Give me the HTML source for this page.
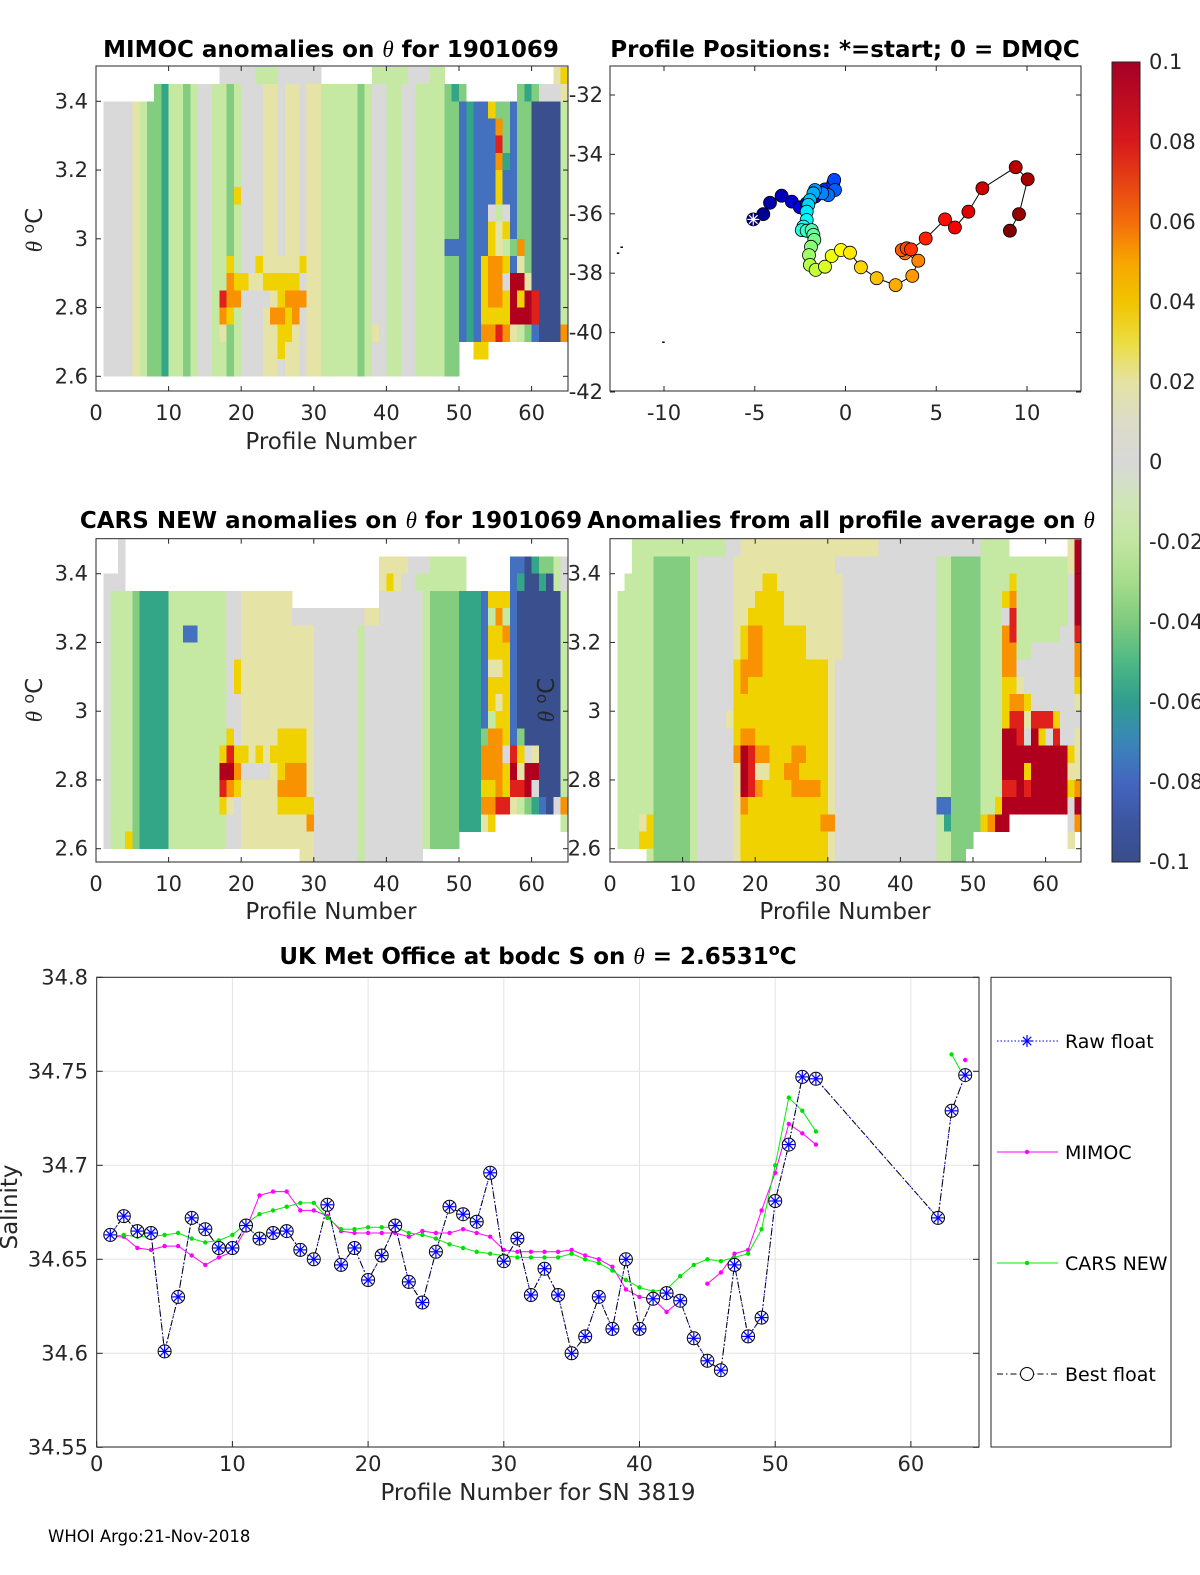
<!DOCTYPE html>
<html><head><meta charset="utf-8"><style>
html,body{margin:0;padding:0;background:#fff;overflow:hidden;}
svg{display:block;font-family:"DejaVu Sans","Liberation Sans",sans-serif;}
.tk{font-size:21px;fill:#262626;}
.lg{font-size:19px;fill:#000;}
.ttl{font-size:23px;font-weight:bold;fill:#000;}
.lbl{font-size:23px;fill:#262626;}
</style></head><body>
<svg id="fig" width="1200" height="1575" viewBox="0 0 1200 1575">
<rect x="0" y="0" width="1200" height="1575" fill="#fff"/>
<defs>
<clipPath id="c1"><rect x="96" y="66" width="472" height="325"/></clipPath>
<clipPath id="c2"><rect x="96" y="538.7" width="472" height="323.3"/></clipPath>
<clipPath id="c3"><rect x="610" y="538.7" width="471" height="323.3"/></clipPath>
<linearGradient id="cbg" x1="0" y1="0" x2="0" y2="1">
<stop offset="0" stop-color="#a50026"/><stop offset="0.1" stop-color="#d7191c"/><stop offset="0.2" stop-color="#f46d0a"/>
<stop offset="0.25" stop-color="#f7a600"/><stop offset="0.3" stop-color="#f1c400"/><stop offset="0.35" stop-color="#ecdc40"/>
<stop offset="0.4" stop-color="#e4e3a4"/><stop offset="0.45" stop-color="#dcdcc8"/><stop offset="0.5" stop-color="#d8d8d8"/>
<stop offset="0.55" stop-color="#cfe5b8"/><stop offset="0.6" stop-color="#c2e6a0"/><stop offset="0.65" stop-color="#a6dc8c"/>
<stop offset="0.7" stop-color="#7ecb7e"/><stop offset="0.75" stop-color="#4db985"/><stop offset="0.8" stop-color="#2f9e8e"/>
<stop offset="0.85" stop-color="#3a86b8"/><stop offset="0.9" stop-color="#4466c0"/><stop offset="0.95" stop-color="#3d55a0"/>
<stop offset="1" stop-color="#3a4d8a"/></linearGradient>
</defs>
<g id="hm1" clip-path="url(#c1)" shape-rendering="crispEdges"></g>
<g id="hm2" clip-path="url(#c2)" shape-rendering="crispEdges"></g>
<g id="hm3" clip-path="url(#c3)" shape-rendering="crispEdges"></g>
<g id="axes"></g>

<text class="ttl" x="331" y="57" text-anchor="middle">MIMOC anomalies on <tspan font-family="Liberation Serif,serif" font-style="italic" font-weight="normal">θ</tspan>  for 1901069</text>
<text class="ttl" x="845" y="57" text-anchor="middle">Profile Positions: *=start; 0 = DMQC</text>
<text class="ttl" x="331" y="528" text-anchor="middle">CARS NEW anomalies on <tspan font-family="Liberation Serif,serif" font-style="italic" font-weight="normal">θ</tspan> for 1901069</text>
<text class="ttl" x="841" y="528" text-anchor="middle">Anomalies from all profile average on <tspan font-family="Liberation Serif,serif" font-style="italic" font-weight="normal">θ</tspan></text>
<text class="ttl" x="538" y="964" text-anchor="middle">UK Met Office at bodc S on <tspan font-family="Liberation Serif,serif" font-style="italic" font-weight="normal">θ</tspan> = 2.6531<tspan dy="-9" font-size="16">o</tspan><tspan dy="9">C</tspan></text>

<text class="lbl" x="331" y="449" text-anchor="middle">Profile Number</text>
<text class="lbl" x="331" y="919" text-anchor="middle">Profile Number</text>
<text class="lbl" x="845" y="919" text-anchor="middle">Profile Number</text>
<text class="lbl" transform="translate(42,230) rotate(-90)" text-anchor="middle"><tspan font-family="Liberation Serif,serif" font-style="italic">θ</tspan> <tspan dy="-8" font-size="16">o</tspan><tspan dy="8">C</tspan></text>
<text class="lbl" transform="translate(42,700) rotate(-90)" text-anchor="middle"><tspan font-family="Liberation Serif,serif" font-style="italic">θ</tspan> <tspan dy="-8" font-size="16">o</tspan><tspan dy="8">C</tspan></text>
<text class="lbl" transform="translate(554,700) rotate(-90)" text-anchor="middle"><tspan font-family="Liberation Serif,serif" font-style="italic">θ</tspan> <tspan dy="-8" font-size="16">o</tspan><tspan dy="8">C</tspan></text>
<text class="lbl" x="538" y="1500" text-anchor="middle">Profile Number for SN 3819</text>
<text class="lbl" transform="translate(17,1207) rotate(-90)" text-anchor="middle">Salinity</text>
<text x="48" y="1542" font-size="16.5" fill="#000">WHOI Argo:21-Nov-2018</text>

<rect x="1112" y="62" width="28" height="800" fill="url(#cbg)" stroke="#262626" stroke-width="1"/>
</svg>
<script>
// ---------- data ----------
const cbTicks = [0.1,0.08,0.06,0.04,0.02,0,-0.02,-0.04,-0.06,-0.08,-0.1];
const thetaTicks = [3.4,3.2,3.0,2.8,2.6];
const thetaTickLabels = ['3.4','3.2','3','2.8','2.6'];
const profTicks = [0,10,20,30,40,50,60];
const lonTicks = [-10,-5,0,5,10];
const latTicks = [-32,-34,-36,-38,-40,-42];
const salTicks = [34.8,34.75,34.7,34.65,34.6,34.55];
const salTickLabels = ['34.8','34.75','34.7','34.65','34.6','34.55'];

// heatmap color classes
const palette = {'0':'#3a4f8e','1':'#4470c0','2':'#33a687','3':'#82cd80','4':'#c5e8a2','5':'#d9d9d9','6':'#e6e3a6','7':'#f0d200','8':'#f89200','9':'#e0201a','R':'#b0001e'};

// MIMOC heatmap: base (mid rows) and row overrides ('.'=base, ' '=no data)
const base1 = "5555"+"6"+"4"+"332"+"44"+"34"+"554"+"434"+"555"+"66566566"+"4444"+"434"+"554455"+"4444"+"33"+"12"+"11"+"747"+"1"+"33"+"0000"+"4";
const rows1 = [
 " ".repeat(16)+"55555444555555"+" ".repeat(7)+"4444455544"+" ".repeat(15)+"67",
 " ".repeat(7)+".".repeat(40)+"323"+" ".repeat(7)+"3235556",
 ".".repeat(54)+"33",
 ".".repeat(53)+"183",
 ".".repeat(53)+"193",
 ".".repeat(53)+"182",
 ".".repeat(53)+"171",
 ".".repeat(18)+"7"+".".repeat(34)+"171",
 ".".repeat(53)+"545",
 ".".repeat(54)+"67",
 ".".repeat(47)+"11"+".".repeat(5)+"64"+"3"+"8",
 ".".repeat(17)+"7"+"..."+"7666667"+".".repeat(24)+"7887"+"1"+"6",
 ".".repeat(17)+"8776677777"+".".repeat(25)+"788"+"5"+"RR"+"6",
 ".".repeat(16)+"988"+"55556"+"7888"+".".repeat(24)+"7887"+"R7R9",
 ".".repeat(16)+"87"+".".repeat(5)+"8878"+".".repeat(25)+"7777"+"RRR9",
 ".".repeat(16)+"6"+".".repeat(6)+"6776"+".".repeat(10)+"6"+".".repeat(14)+"8898"+"64"+"31"+"0008",
 ".".repeat(24)+"7"+".".repeat(24)+"  77"+" ".repeat(11),
 ".".repeat(49)+" ".repeat(15)
];

// CARS heatmap
const base2 = "54443222244444444556666666666"+"555555455555555"+"433332"+"221"+"777"+"1"+"000000"+"4";
const rows2 = [
 "  5"+" ".repeat(61),
 "  5"+" ".repeat(35)+"666655544444"+" ".repeat(6)+"11023345",
 "555"+" ".repeat(35)+"676554444444"+" ".repeat(6)+"12002045",
 ".".repeat(26)+" ".repeat(12)+".".repeat(26),
 ".".repeat(26)+"555555555566"+".".repeat(15)+"484",
 ".".repeat(11)+"11"+".".repeat(40)+"778",
 ".".repeat(53)+"77",
 ".".repeat(18)+"7"+".".repeat(34)+"66",
 ".".repeat(18)+"7"+".".repeat(37)+"1",
 ".".repeat(54)+"67",
 ".".repeat(53)+"47",
 ".".repeat(17)+"7"+".".repeat(6)+"7777"+".".repeat(24)+"3887"+"1"+"3",
 ".".repeat(16)+"797767677777"+".".repeat(24)+"8885"+"9756",
 ".".repeat(16)+"RR8"+"55556"+"7888"+".".repeat(24)+"8887"+"R6RR",
 ".".repeat(16)+"987"+".".repeat(5)+"8888"+".".repeat(24)+"7787"+"99R5",
 ".".repeat(16)+"76"+".".repeat(6)+"77777"+".".repeat(23)+"8899"+"64321058",
 ".".repeat(28)+"8"+".".repeat(23)+"67"+" ".repeat(9)+"4",
 "..."+"7"+".".repeat(45)+" ".repeat(15),
 " ".repeat(27)+".".repeat(17)+" ".repeat(20)
];

// All-profile-average heatmap
const base3 = "4444"+"43333"+"3455555"+"67777777777776"+"55555555555555"+"443333"+"444"+"8888555"+"555"+"R";
const rows3 = [
 "  "+"4444444444444"+"55"+"6666666666666666666"+"55555555555555"+"4444"+" ".repeat(8)+"6R",
 "  "+".".repeat(15)+"6666666666666"+".".repeat(23)+"444444444"+"6R",
 " "+".".repeat(16)+"66677666666666"+".".repeat(22)+"4744444445R",
 ".".repeat(17)+"66777766666666"+".".repeat(22)+"78"+"44444"+"44"+"5"+"R",
 ".".repeat(17)+"67777766666666"+".".repeat(22)+"59"+"4444444"+"5R",
 ".".repeat(17)+"78877777766666"+".".repeat(22)+"89"+"4444445"+"5"+"9",
 ".".repeat(17)+"78877777766666"+".".repeat(22)+"88"+"4455555"+"5"+"8",
 ".".repeat(16)+"7888777777"+".".repeat(27)+"88"+"5555555"+"5"+"8",
 ".".repeat(16)+"78777777777"+".".repeat(26)+"77"+"6"+"5555555"+"7",
 ".".repeat(16)+"7777777777"+".".repeat(27)+"7887"+"555555"+"6",
 ".".repeat(15)+"6777777777777"+".".repeat(25)+"7996"+"9997"+"55"+"5",
 ".".repeat(16)+"7887777777"+".".repeat(27)+"RR95"+"R7595"+"5"+"6",
 ".".repeat(16)+"8R98877788"+".".repeat(27)+"RRRRRRRRR"+"76",
 ".".repeat(17)+"R9667788"+".".repeat(28)+"RRR7RRRRR"+"66",
 ".".repeat(17)+"R98"+"...."+"8888"+".".repeat(25)+"99R9RRRRR"+"78",
 ".".repeat(17)+"87"+"....."+"77777"+".".repeat(15)+"11"+"......"+"7"+"RRRRRRRRR"+"5R",
 "..."+"67"+".".repeat(12)+"7"+".".repeat(10)+"88"+".".repeat(15)+"2"+"...."+"78RR"+" ".repeat(8)+"58",
 "..."+"77"+".".repeat(44)+" ".repeat(13)+"6 ",
 "    "+".".repeat(44)+" ".repeat(16)
];

// profile positions (lon, lat)
const lons = [-5.08,-4.53,-4.16,-3.52,-2.96,-2.51,-2.14,-1.68,-1.13,-0.67,-0.62,-0.58,-0.95,-1.28,-1.68,-1.77,-1.96,-2.05,-2.14,-2.14,-2.32,-2.41,-2.14,-1.86,-1.77,-1.72,-1.90,-2.01,-1.96,-1.64,-1.13,-0.76,-0.25,0.25,0.85,1.72,2.76,3.68,4.01,3.28,3.10,3.37,3.61,4.42,5.48,6.03,6.77,7.54,9.38,10.04,9.56,9.06];
const lats = [-36.19,-36.01,-35.63,-35.39,-35.59,-35.78,-35.65,-35.42,-35.18,-34.97,-34.86,-35.20,-35.37,-35.31,-35.20,-35.31,-35.54,-35.70,-35.93,-36.21,-36.43,-36.55,-36.57,-36.55,-36.71,-36.88,-37.11,-37.39,-37.72,-37.89,-37.78,-37.42,-37.22,-37.31,-37.80,-38.17,-38.40,-38.09,-37.58,-37.33,-37.22,-37.16,-37.20,-36.83,-36.19,-36.46,-35.93,-35.14,-34.43,-34.84,-36.01,-36.57];
const landLons = [-12.4,-12.6,-10.1];
const landLats = [-37.1,-37.3,-40.3];

// salinity series, index = profile number - 1
const N8 = [null,null,null,null,null,null,null,null];
const bestFloat = [34.663,34.673,34.665,34.664,34.601,34.630,34.672,34.666,34.656,34.656,34.668,34.661,34.664,34.665,34.655,34.650,34.679,34.647,34.656,34.639,34.652,34.668,34.638,34.627,34.654,34.678,34.674,34.670,34.696,34.649,34.661,34.631,34.645,34.631,34.600,34.609,34.630,34.613,34.650,34.613,34.629,34.632,34.628,34.608,34.596,34.591,34.647,34.609,34.619,34.681,34.711,34.747,34.746].concat(N8,[34.672,34.729,34.748]);
const rawFloat = bestFloat.slice();
const mimoc = [34.662,34.662,34.656,34.655,34.657,34.657,34.652,34.647,34.651,34.654,34.666,34.684,34.686,34.686,34.676,34.676,34.673,34.665,34.664,34.664,34.664,34.664,34.662,34.665,34.664,34.664,34.666,34.664,34.662,34.655,34.654,34.654,34.654,34.654,34.655,34.652,34.650,34.646,34.634,34.630,34.629,34.622,34.628,null,34.637,34.643,34.653,34.655,34.676,34.696,34.722,34.717,34.711].concat(N8,[null,null,34.756]);
const cars = [34.662,34.663,34.662,34.662,34.663,34.664,34.661,34.659,34.660,34.663,34.669,34.674,34.676,34.678,34.680,34.680,34.672,34.666,34.666,34.667,34.667,34.667,34.664,34.663,34.661,34.658,34.656,34.654,34.653,34.652,34.651,34.651,34.651,34.651,34.653,34.650,34.648,34.644,34.639,34.635,34.633,34.634,34.641,34.647,34.650,34.649,34.651,34.653,34.666,34.700,34.736,34.729,34.718].concat(N8,[null,34.759,34.746]);

// ---------- drawing ----------
const NS='http://www.w3.org/2000/svg';
const svg=document.getElementById('fig');
const axesG=document.getElementById('axes');
function mk(tag,attrs,parent){const e=document.createElementNS(NS,tag);for(const k in attrs)e.setAttribute(k,attrs[k]);(parent||axesG).appendChild(e);return e;}

// scales
const X1=p=>96+7.26*p, Y1=t=>101.3+(3.4-t)*343.75;
const X2=p=>96+7.26*p, Y2=t=>573.7+(3.4-t)*343.75;
const X3=p=>610+7.26*p;
const LX=l=>845.5+18.15*l, LY=a=>95+(-32-a)*29.7;
const BX=p=>96.7+13.57*p, BY=s=>977.3+(34.8-s)*1880;
const CY=v=>462-v*4000;

function drawHeat(gid,base,rows,X,Y,name){
  const g=document.getElementById(gid);
  rows.forEach((row,r)=>{
    for(let c=0;c<64;c++){
      let ch=row[c]; if(ch===undefined) ch='.';
      if(ch==='.') ch=base[c];
      if(ch===' '||ch===undefined||!palette[ch]) continue;
      const t0=3.50-0.05*r, t1=t0-0.05;
      const x0=X(c+1), x1=X(c+2);
      const y0=Y(t0), y1=Y(t1);
      const e=mk('rect',{x:x0.toFixed(2),y:y0.toFixed(2),width:(x1-x0+0.3).toFixed(2),height:(y1-y0+0.3).toFixed(2),fill:palette[ch]},g);
      
      
    }
  });
}
drawHeat('hm1',base1,rows1,X1,Y1,'mimoc');
drawHeat('hm2',base2,rows2,X2,Y2,'cars');
drawHeat('hm3',base3,rows3,X3,Y2,'average');

function box(x,y,w,h,name){
  const e=mk('rect',{x:x,y:y,width:w,height:h,fill:'none',stroke:'#262626','stroke-width':1});
  
  
}
function tickLabel(x,y,s,anchor,name,cls){
  const e=mk('text',{x:x,y:y,'text-anchor':anchor,class:cls||'tk'});
  e.textContent=s;
  
  
}
function tline(x1,y1,x2,y2,name,col){
  const e=mk('line',{x1:x1,y1:y1,x2:x2,y2:y2,stroke:col||'#262626','stroke-width':1});
  
  
}

// heatmap axes
function heatAxes(left,top,right,bottom,X,Y,prefix,labelsLeft){
  box(left,top,right-left,bottom-top,prefix+'-axes-box');
  profTicks.forEach(p=>{
    const x=X(p);
    tline(x,bottom,x,bottom-5,prefix+'-x-tick');
    tline(x,top,x,top+5,prefix+'-x-tick');
    tickLabel(x,bottom+29,String(p),'middle',prefix+'-x-tick-label');
  });
  thetaTicks.forEach((t,i)=>{
    const y=Y(t);
    tline(left,y,left+5,y,prefix+'-y-tick');
    tline(right,y,right-5,y,prefix+'-y-tick');
    tickLabel(labelsLeft,y+7,thetaTickLabels[i],'end',prefix+'-y-tick-label');
  });
}
heatAxes(96,66,568,391,X1,Y1,'mimoc',88);
heatAxes(96,538.7,568,862,X2,Y2,'cars',88);
heatAxes(610,538.7,1081,862,X3,Y2,'average',601);

// positions axes
box(610,66,471,325,'positions-axes-box');
lonTicks.forEach(l=>{
  const x=LX(l);
  tline(x,391,x,386,'lon-tick');
  tline(x,66,x,71,'lon-tick');
  tickLabel(x,420,String(l),'middle','lon-tick-label');
});
latTicks.forEach(a=>{
  const y=LY(a);
  tline(610,y,615,y,'lat-tick');
  tline(1081,y,1076,y,'lat-tick');
  tickLabel(603,y+7,String(a),'end','lat-tick-label');
});
// track
let pts=lons.map((l,i)=>LX(l).toFixed(1)+','+LY(lats[i]).toFixed(1)).join(' ');
const track=mk('polyline',{points:pts,fill:'none',stroke:'#000','stroke-width':1});


function jet(t){const r=Math.min(Math.max(Math.min(4*t-1.5,-4*t+4.5),0),1);const g=Math.min(Math.max(Math.min(4*t-0.5,-4*t+3.5),0),1);const b=Math.min(Math.max(Math.min(4*t+0.5,-4*t+2.5),0),1);return 'rgb('+Math.round(r*255)+','+Math.round(g*255)+','+Math.round(b*255)+')';}
lons.forEach((l,i)=>{
  const c=mk('circle',{cx:LX(l).toFixed(1),cy:LY(lats[i]).toFixed(1),r:6.5,fill:jet(i/(lons.length-1)),stroke:'#000','stroke-width':0.8});
  
  
});
// start star
{const cx=LX(lons[0]),cy=LY(lats[0]);
 for(let k=0;k<4;k++){const a=k*Math.PI/4;
  const s=mk('line',{x1:cx-6*Math.cos(a),y1:cy-6*Math.sin(a),x2:cx+6*Math.cos(a),y2:cy+6*Math.sin(a),stroke:'#fff','stroke-width':1.2});
  
  }}
landLons.forEach((l,i)=>{
  const d=mk('rect',{x:LX(l),y:LY(landLats[i]),width:2.5,height:1.5,fill:'#000'});
  
  
});

// colorbar ticks
cbTicks.forEach(v=>{
  const y=CY(v);
  tline(1112,y,1117,y,'colorbar-tick');
  tline(1140,y,1135,y,'colorbar-tick');
  tickLabel(1149,y+7,String(v),'start','colorbar-tick-label');
});

// salinity axes
profTicks.forEach(p=>{
  const x=BX(p);
  tline(x,977.3,x,1447,'salinity-x-grid','#e3e3e3');
});
salTicks.forEach(s=>{
  const y=BY(s);
  tline(96.7,y,979,y,'salinity-y-grid','#e3e3e3');
});
box(96.7,977.3,882.3,469.7,'salinity-axes-box');
profTicks.forEach(p=>{
  const x=BX(p);
  tline(x,1447,x,1441,'salinity-x-tick');
  tickLabel(x,1471,String(p),'middle','salinity-x-tick-label');
});
salTicks.forEach((s,i)=>{
  const y=BY(s);
  tline(96.7,y,102.7,y,'salinity-y-tick');
  tline(979,y,973,y,'salinity-y-tick');
  tickLabel(88,y+7,salTickLabels[i],'end','salinity-y-tick-label');
});

function seriesPath(arr,connectGaps){
  let d='',pen=false;
  arr.forEach((v,i)=>{
    if(v===null){ if(!connectGaps) pen=false; return; }
    d+=(pen?'L':'M')+BX(i+1).toFixed(1)+' '+BY(v).toFixed(1)+' ';
    pen=true;
  });
  return d;
}
function dots(arr,col,name){
  arr.forEach((v,i)=>{
    if(v===null) return;
    const c=mk('circle',{cx:BX(i+1).toFixed(1),cy:BY(v).toFixed(1),r:2.2,fill:col});
    
    
  });
}
const pm=mk('path',{d:seriesPath(mimoc,false),fill:'none',stroke:'#ff00ff','stroke-width':1});


dots(mimoc,'#ff00ff','mimoc-point');
const pc=mk('path',{d:seriesPath(cars,false),fill:'none',stroke:'#00ee00','stroke-width':1});


dots(cars,'#00e000','cars-point');
const pr=mk('path',{d:seriesPath(rawFloat,true),fill:'none',stroke:'#0000ff','stroke-width':1,'stroke-dasharray':'1.5,2'});


const pb=mk('path',{d:seriesPath(bestFloat,true),fill:'none',stroke:'#000','stroke-width':1,'stroke-dasharray':'6,3,1.5,3'});


function asterisk(cx,cy,r,col,name){
  for(let k=0;k<4;k++){const a=k*Math.PI/4;
    const s=mk('line',{x1:(cx-r*Math.cos(a)).toFixed(1),y1:(cy-r*Math.sin(a)).toFixed(1),x2:(cx+r*Math.cos(a)).toFixed(1),y2:(cy+r*Math.sin(a)).toFixed(1),stroke:col,'stroke-width':1.2});
    
    }
}
bestFloat.forEach((v,i)=>{
  if(v===null) return;
  const cx=BX(i+1),cy=BY(v);
  const c=mk('circle',{cx:cx.toFixed(1),cy:cy.toFixed(1),r:6.5,fill:'#fff',stroke:'#000','stroke-width':1});
  
  
});
rawFloat.forEach((v,i)=>{
  if(v===null) return;
  asterisk(BX(i+1),BY(v),6,'#0000ff','raw-float-point');
});

// legend
box(991,977.3,180,469.7,'legend-box');
const legY=[1041,1152,1263,1374];
const legNames=['Raw float','MIMOC','CARS NEW','Best float'];
const l0=mk('line',{x1:997,y1:legY[0],x2:1058,y2:legY[0],stroke:'#0000ff','stroke-dasharray':'1.5,2'});


asterisk(1027,legY[0],6,'#0000ff','legend-raw-float-marker');
const l1=mk('line',{x1:997,y1:legY[1],x2:1058,y2:legY[1],stroke:'#ff00ff'});


const d1=mk('circle',{cx:1027,cy:legY[1],r:2.2,fill:'#ff00ff'});


const l2=mk('line',{x1:997,y1:legY[2],x2:1058,y2:legY[2],stroke:'#00ee00'});


const d2=mk('circle',{cx:1027,cy:legY[2],r:2.2,fill:'#00e000'});


const l3=mk('line',{x1:997,y1:legY[3],x2:1058,y2:legY[3],stroke:'#000','stroke-dasharray':'6,3,1.5,3'});


const d3=mk('circle',{cx:1027,cy:legY[3],r:6.5,fill:'#fff',stroke:'#000'});


legNames.forEach((n,i)=>{
  const t=mk('text',{x:1065,y:legY[i]+7,class:'lg'});
  t.textContent=n;
  
  
});
</script>
</body></html>
